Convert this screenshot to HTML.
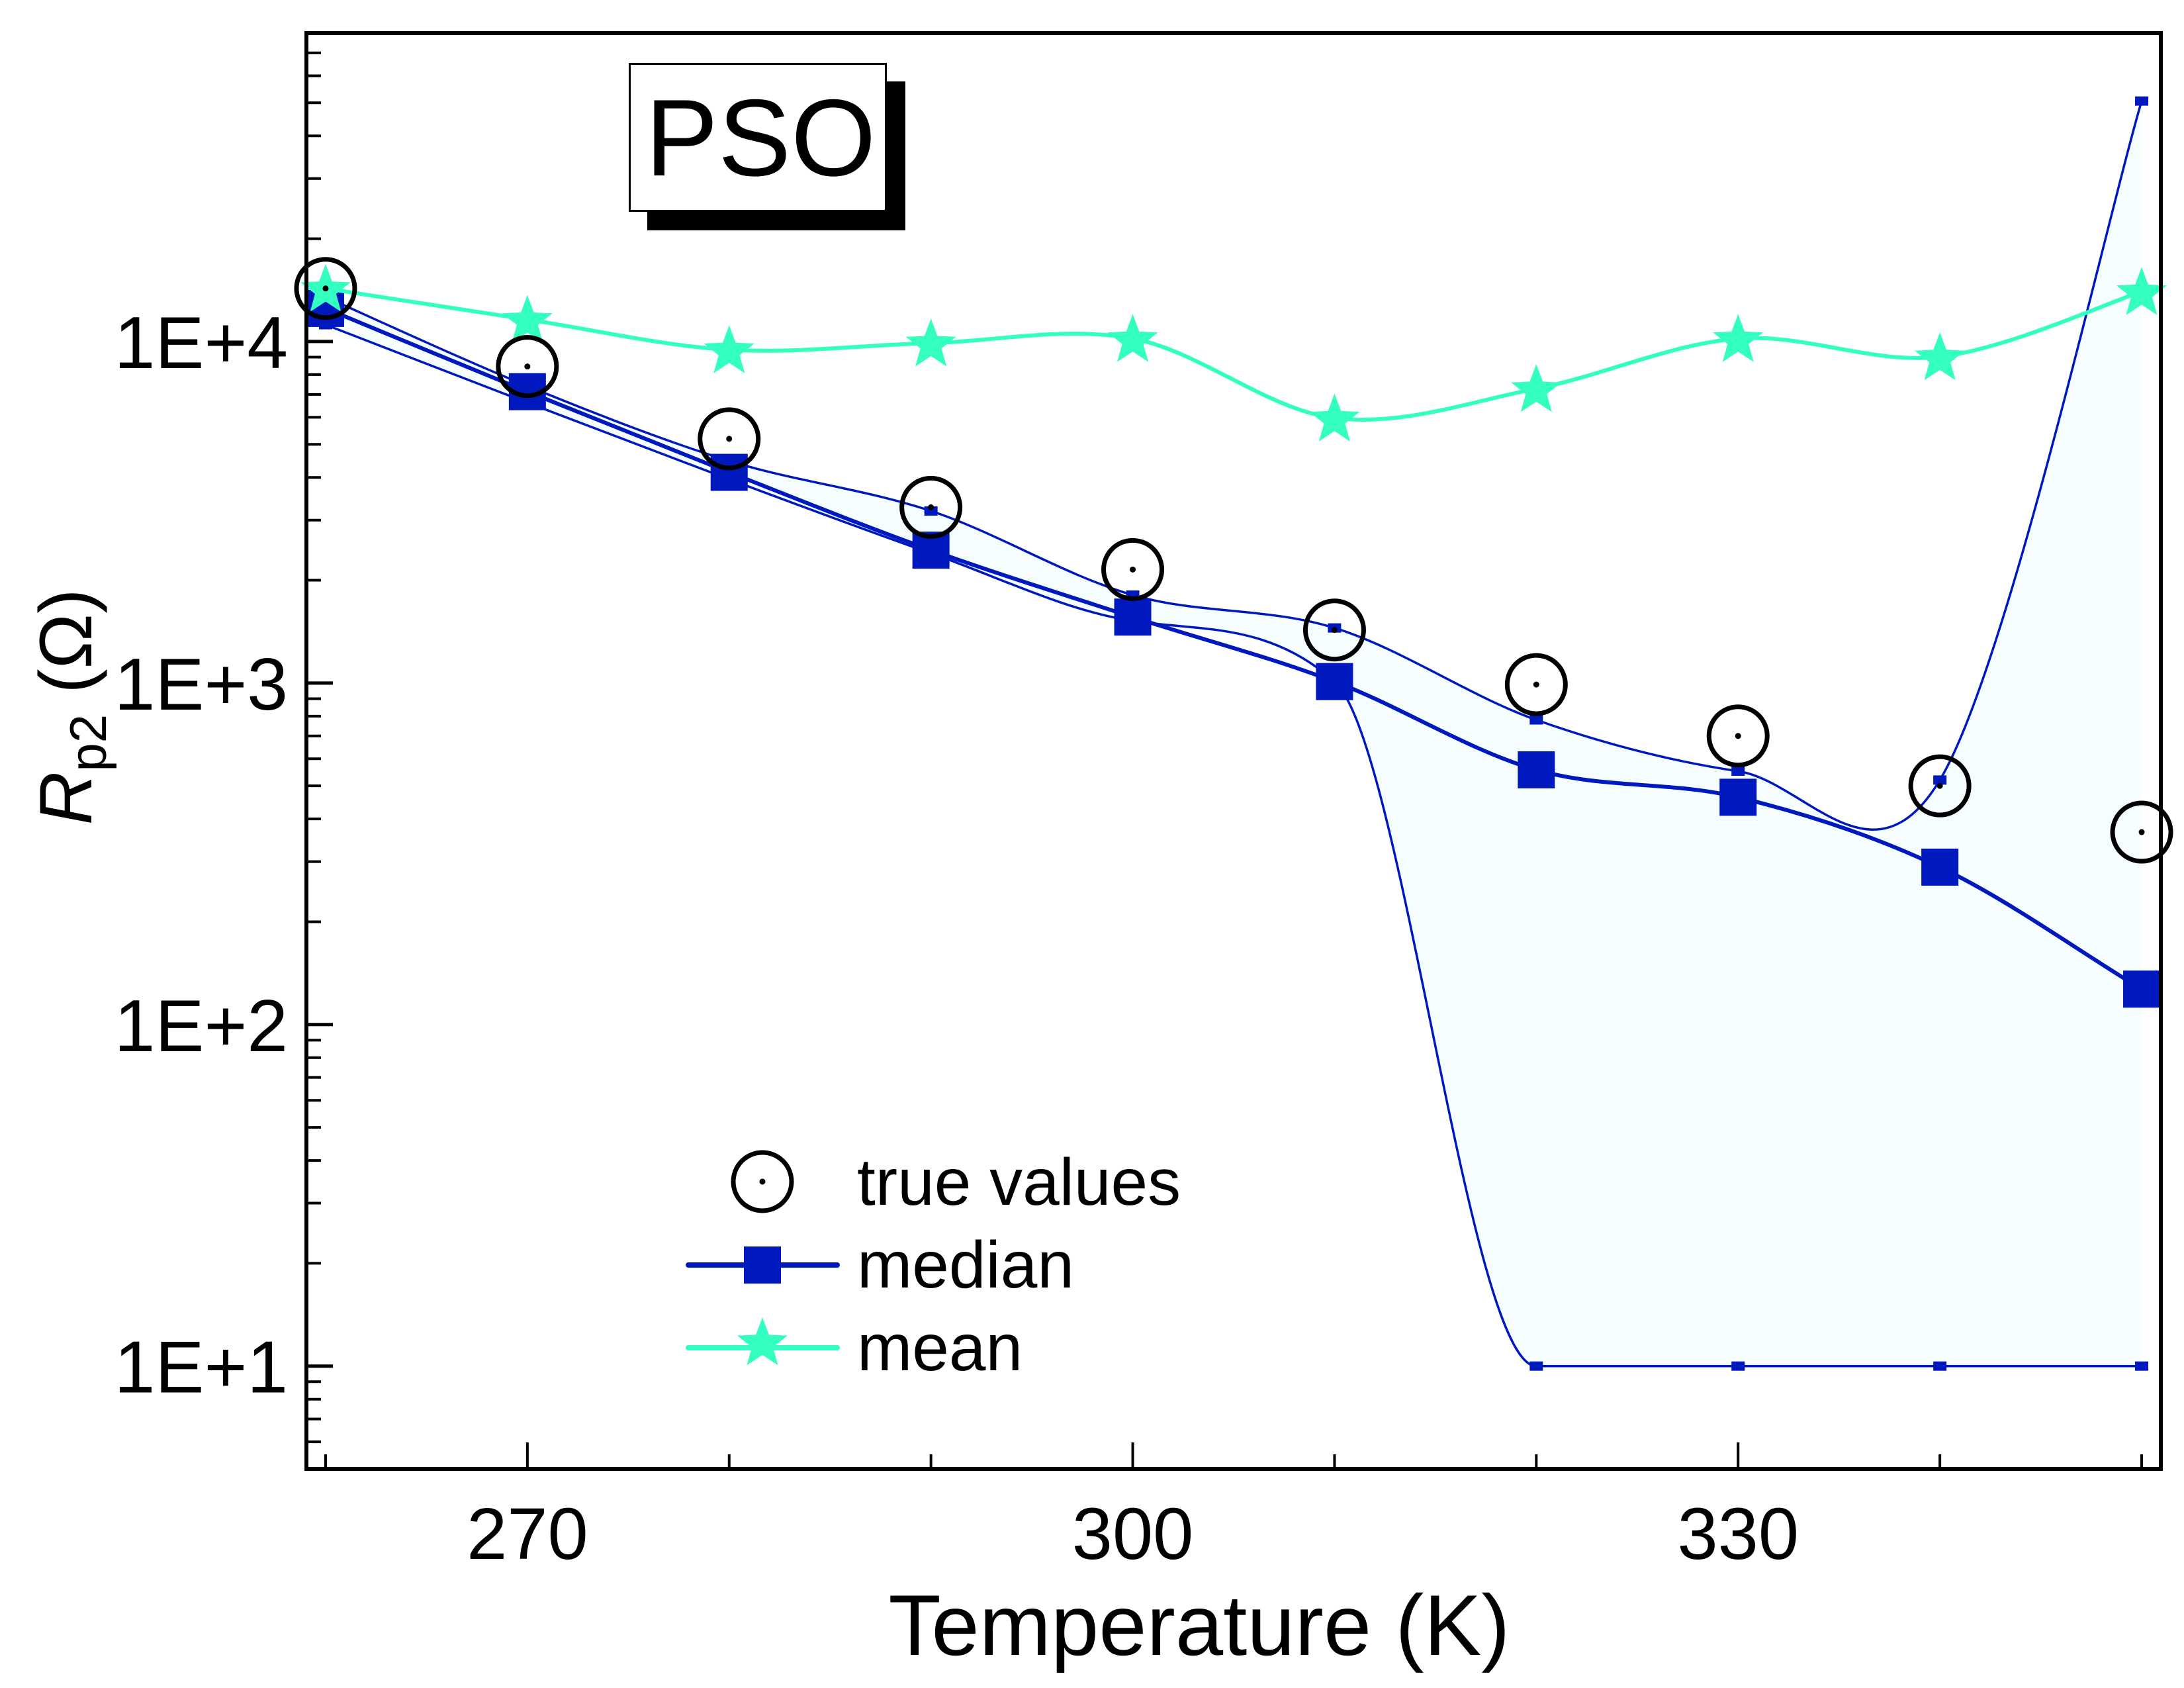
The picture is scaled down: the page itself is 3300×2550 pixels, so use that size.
<!DOCTYPE html>
<html><head><meta charset="utf-8"><style>
html,body{margin:0;padding:0;background:#fff;}
svg{display:block;font-family:"Liberation Sans",sans-serif;}
</style></head><body>
<svg id="chart" width="3300" height="2550" viewBox="0 0 3300 2550" xmlns="http://www.w3.org/2000/svg">
<g id="plot"></g>
<g id="axes"></g>
<g>
<rect x="978" y="123" width="390" height="225" fill="#000"/>
<rect x="951.5" y="96.5" width="387" height="222" fill="#fff" stroke="#000" stroke-width="3"/>
<text x="975" y="265" font-size="165" fill="#000">PSO</text>
</g>
<g>
<g>
<circle cx="1152" cy="1785" r="44" fill="none" stroke="#000" stroke-width="7"/>
<circle cx="1152" cy="1785" r="4.5" fill="#000"/>
<text x="1295" y="1820" font-size="100">true values</text>
</g>
<g>
<line x1="1040" y1="1911" x2="1265" y2="1911" stroke="#0019bf" stroke-width="8" stroke-linecap="round"/>
<rect x="1124" y="1883" width="56" height="56" fill="#0019bf"/>
<text x="1295" y="1945" font-size="100">median</text>
</g>
<g>
<line x1="1040" y1="2036" x2="1265" y2="2036" stroke="#33ffc0" stroke-width="8" stroke-linecap="round"/>
<path id="legstar" fill="#33ffc0"/>
<text x="1295" y="2070" font-size="100">mean</text>
</g>
</g>
<text x="1812" y="2500" font-size="130" text-anchor="middle">Temperature (K)</text>
<text transform="translate(138,1068) rotate(-90)" font-size="112" text-anchor="middle"><tspan font-style="italic">R</tspan><tspan font-size="78" dy="22">p2</tspan><tspan dy="-22"> (Ω)</tspan></text>
</svg>
<script>
const temps = [260,270,280,290,300,310,320,330,340,350];
const trueValues = [14300,8450,5190,3270,2150,1430,990,700,500,366];
const medianValues = [12500,7130,4140,2450,1560,1010,557,463,289,127];
const meanValues = [14300,11600,9460,9900,10200,5970,7280,10200,9020,14000];
const upperValues = [13500,7410,4470,3190,1810,1450,780,552,520,50600];
const lowerValues = [11200,6620,3950,2400,1520,1010,10,10,10,10];
const xTicks = [270,300,330];
const yTickLabels = ["1E+1","1E+2","1E+3","1E+4"];
const yTickValues = [10,100,1000,10000];

const L=463,R=3265,T=50,B=2219;
const xMin=259.05,xMax=350.95,yMin=Math.log10(5),yMax=Math.log10(80000);
const X=v=>L+(v-xMin)/(xMax-xMin)*(R-L);
const Y=v=>B-(Math.log10(v)-yMin)/(yMax-yMin)*(B-T);
const NS='http://www.w3.org/2000/svg';
const plot=document.getElementById('plot'), axes=document.getElementById('axes');
function mk(tag,parent,attrs){const e=document.createElementNS(NS,tag);for(const k in attrs)e.setAttribute(k,attrs[k]);parent.appendChild(e);return e;}
function f(v){return v.toFixed(1);}
function spline(pts,move){let d=(move?'M':'L')+f(pts[0][0])+','+f(pts[0][1]);
 for(let i=0;i<pts.length-1;i++){const p0=pts[Math.max(i-1,0)],p1=pts[i],p2=pts[i+1],p3=pts[Math.min(i+2,pts.length-1)];
  const c1=[p1[0]+(p2[0]-p0[0])/6,p1[1]+(p2[1]-p0[1])/6],c2=[p2[0]-(p3[0]-p1[0])/6,p2[1]-(p3[1]-p1[1])/6];
  d+='C'+f(c1[0])+','+f(c1[1])+' '+f(c2[0])+','+f(c2[1])+' '+f(p2[0])+','+f(p2[1]);}
 return d;}
// monotone cubic (Fritsch-Carlson), pts must be sorted by x (ascending or descending)
function mono(pts,move){const n=pts.length,dx=[],s=[],m=[];
 for(let i=0;i<n-1;i++){dx[i]=pts[i+1][0]-pts[i][0];s[i]=(pts[i+1][1]-pts[i][1])/dx[i];}
 m[0]=s[0];m[n-1]=s[n-2];
 for(let i=1;i<n-1;i++){m[i]=(s[i-1]*s[i]<=0)?0:(s[i-1]+s[i])/2;}
 for(let i=0;i<n-1;i++){if(s[i]===0){m[i]=0;m[i+1]=0;continue;}
  const a=m[i]/s[i],b=m[i+1]/s[i],h=a*a+b*b;if(h>9){const t=3/Math.sqrt(h);m[i]=t*a*s[i];m[i+1]=t*b*s[i];}}
 let d=(move?'M':'L')+f(pts[0][0])+','+f(pts[0][1]);
 for(let i=0;i<n-1;i++){const h=dx[i]/3;
  d+='C'+f(pts[i][0]+h)+','+f(pts[i][1]+m[i]*h)+' '+f(pts[i+1][0]-h)+','+f(pts[i+1][1]-m[i+1]*h)+' '+f(pts[i+1][0])+','+f(pts[i+1][1]);}
 return d;}
function starPath(cx,cy,r){let d='';for(let i=0;i<10;i++){const a=-Math.PI/2+i*Math.PI/5,rr=i%2?r*0.42:r;d+=(i?'L':'M')+f(cx+rr*Math.cos(a))+','+f(cy+rr*Math.sin(a));}return d+'Z';}
document.getElementById('legstar').setAttribute('d',starPath(1152,2030,40));

const up=temps.map((t,i)=>[X(t),Y(upperValues[i])]);
const lo=temps.map((t,i)=>[X(t),Y(lowerValues[i])]);
const fill=mk('path',plot,{d:spline(up,true)+mono(lo.slice().reverse(),false)+'Z',fill:'#f5fdff'});


[[up,'upper-bound-line',spline],[lo,'lower-bound-line',mono]].forEach(([pts,nm,fn])=>{
 const p=mk('path',plot,{d:fn(pts,true),fill:'none',stroke:'#0019bf','stroke-width':3.5});
 
 
 pts.forEach(q=>{const r=mk('rect',plot,{x:q[0]-10,y:q[1]-7,width:20,height:14,fill:'#0019bf'});
  
  });
});
const md=temps.map((t,i)=>[X(t),Y(medianValues[i])]);
const mdl=mk('path',plot,{d:mono(md,true),fill:'none',stroke:'#0019bf','stroke-width':6});


md.forEach(q=>{const r=mk('rect',plot,{x:q[0]-28,y:q[1]-28,width:56,height:56,fill:'#0019bf'});
 
 });
const mn=temps.map((t,i)=>[X(t),Y(meanValues[i])]);
const mnl=mk('path',plot,{d:spline(mn,true),fill:'none',stroke:'#33ffc0','stroke-width':6});


mn.forEach(q=>{const s=mk('path',plot,{d:starPath(q[0],q[1]+3,40),fill:'#33ffc0'});
 
 });
temps.forEach((t,i)=>{const g=mk('g',plot,{});
 
 
 mk('circle',g,{cx:X(t),cy:Y(trueValues[i]),r:44,fill:'none',stroke:'#000','stroke-width':7});
 mk('circle',g,{cx:X(t),cy:Y(trueValues[i]),r:4.5,fill:'#000'});});

const fr=mk('rect',axes,{x:L,y:T,width:R-L,height:B-T,fill:'none',stroke:'#000','stroke-width':6});


for(let t=260;t<=350;t+=10){const major=xTicks.includes(t);
 const l=mk('line',axes,{x1:X(t),x2:X(t),y1:B,y2:B-(major?40:22),stroke:'#000','stroke-width':4});
 
 }
xTicks.forEach(t=>{const tx=mk('text',axes,{x:X(t),y:2355,'font-size':110,'text-anchor':'middle'});tx.textContent=t;
 
 });
for(let e=0;e<=4;e++)for(let m=1;m<=9;m++){const v=m*Math.pow(10,e);if(v<5||v>80000)continue;
 const l=mk('line',axes,{x1:L,x2:L+(m===1?40:22),y1:Y(v),y2:Y(v),stroke:'#000','stroke-width':m===1?5:4});
 
 }
yTickValues.forEach((v,i)=>{const tx=mk('text',axes,{x:435,y:Y(v)+40,'font-size':111,'text-anchor':'end'});tx.textContent=yTickLabels[i];
 
 });
</script>
</body></html>
